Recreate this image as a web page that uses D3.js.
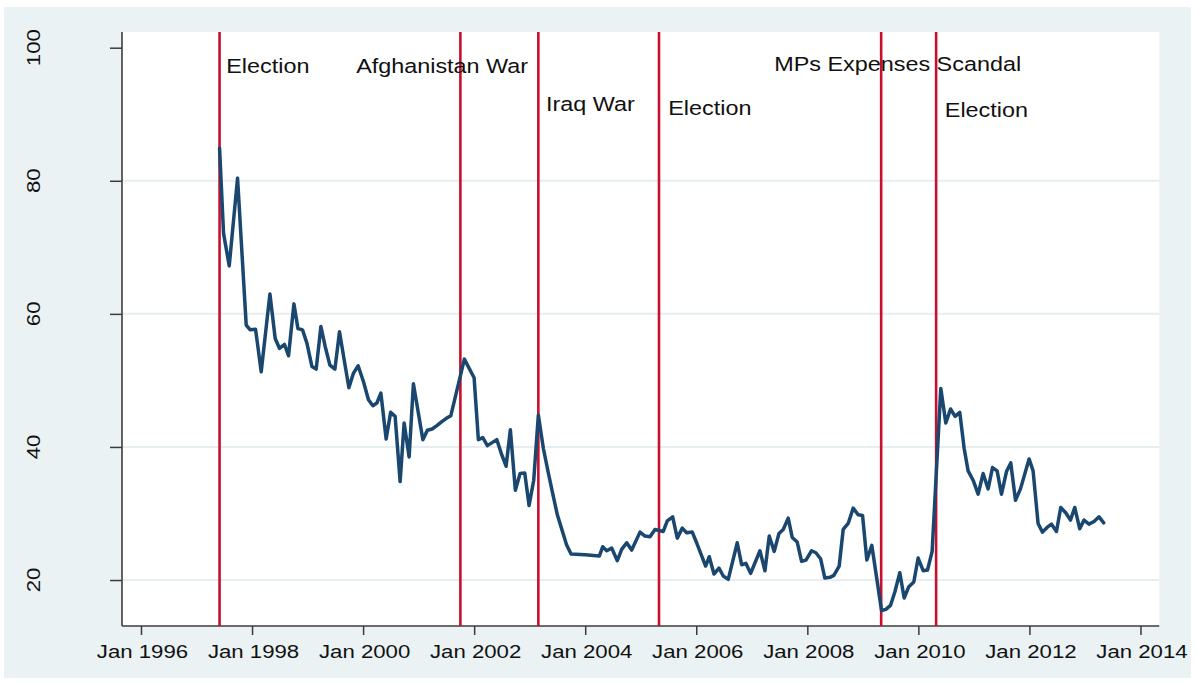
<!DOCTYPE html>
<html>
<head>
<meta charset="utf-8">
<script src="https://cdn.jsdelivr.net/npm/d3@7"></script>
<style>
    body { margin: 0; background: #ffffff; }
    text { font-family: "Liberation Sans", Arial, sans-serif; fill: #111111; }
</style>
</head>
<body>
<script>
// Poll series (decimal year, percent)
var pollYears = [
    1997.415, 1997.487, 1997.589, 1997.739, 1997.895, 1997.967, 1998.063, 1998.165, 1998.322, 1998.417,
    1998.495, 1998.585, 1998.657, 1998.754, 1998.826, 1998.909, 1998.988, 1999.078, 1999.155, 1999.240,
    1999.317, 1999.402, 1999.492, 1999.575, 1999.659, 1999.744, 1999.827, 1999.911, 2000.007, 2000.097,
    2000.176, 2000.248, 2000.320, 2000.415, 2000.496, 2000.577, 2000.667, 2000.739, 2000.829, 2000.906,
    2001.076, 2001.158, 2001.243, 2001.328, 2001.418, 2001.500, 2001.580, 2001.824, 2001.999, 2002.076,
    2002.156, 2002.238, 2002.408, 2002.498, 2002.575, 2002.652, 2002.742, 2002.827, 2002.911, 2002.989,
    2003.073, 2003.156, 2003.246, 2003.331, 2003.415, 2003.498, 2003.583, 2003.664, 2003.745, 2003.997,
    2004.254, 2004.315, 2004.387, 2004.477, 2004.578, 2004.657, 2004.747, 2004.837, 2004.987, 2005.077,
    2005.167, 2005.257, 2005.406, 2005.478, 2005.575, 2005.658, 2005.748, 2005.827, 2005.928, 2006.007,
    2006.169, 2006.234, 2006.319, 2006.409, 2006.486, 2006.576, 2006.738, 2006.817, 2006.895, 2006.979,
    2007.147, 2007.237, 2007.314, 2007.404, 2007.489, 2007.566, 2007.656, 2007.728, 2007.818, 2007.897,
    2007.975, 2008.077, 2008.154, 2008.239, 2008.316, 2008.406, 2008.478, 2008.574, 2008.646, 2008.736,
    2008.826, 2008.916, 2008.995, 2009.072, 2009.162, 2009.337, 2009.414, 2009.499, 2009.576, 2009.666,
    2009.744, 2009.828, 2009.918, 2009.996, 2010.086, 2010.165, 2010.248, 2010.404, 2010.494, 2010.579,
    2010.662, 2010.746, 2010.824, 2010.896, 2010.986, 2011.076, 2011.166, 2011.256, 2011.335, 2011.418,
    2011.497, 2011.587, 2011.664, 2011.749, 2011.839, 2011.994, 2012.066, 2012.156, 2012.235, 2012.318,
    2012.397, 2012.487, 2012.564, 2012.654, 2012.739, 2012.816, 2012.906, 2012.983, 2013.073, 2013.163,
    2013.253, 2013.338
];
var pollValues = [
    84.9, 72.1, 67.2, 80.4, 58.3, 57.6, 57.7, 51.3, 63.0, 56.3,
    54.8, 55.4, 53.7, 61.5, 57.8, 57.6, 55.6, 52.1, 51.7, 58.1,
    55.1, 52.3, 51.7, 57.3, 53.1, 48.9, 51.1, 52.2, 49.8, 47.1,
    46.2, 46.6, 48.1, 41.2, 45.2, 44.6, 34.8, 43.6, 38.5, 49.5,
    41.1, 42.5, 42.7, 43.2, 43.8, 44.3, 44.7, 53.2, 50.4, 41.1,
    41.4, 40.2, 41.1, 38.8, 37.1, 42.6, 33.5, 36.0, 36.1, 31.2,
    35.0, 44.8, 39.8, 36.3, 33.0, 29.8, 27.5, 25.3, 23.9, 23.8,
    23.6, 25.0, 24.4, 24.8, 22.9, 24.6, 25.6, 24.5, 27.2, 26.6,
    26.5, 27.6, 27.3, 28.9, 29.5, 26.3, 27.8, 27.1, 27.2, 25.6,
    22.1, 23.5, 20.9, 21.8, 20.6, 20.1, 25.6, 22.3, 22.5, 21.0,
    24.4, 21.4, 26.6, 24.3, 27.0, 27.6, 29.3, 26.4, 25.7, 22.8,
    23.0, 24.4, 24.1, 23.2, 20.3, 20.4, 20.7, 22.1, 27.6, 28.5,
    30.8, 29.8, 29.7, 23.0, 25.2, 15.4, 15.6, 16.2, 18.2, 21.1,
    17.3, 19.0, 19.7, 23.3, 21.4, 21.5, 24.3, 48.8, 43.6, 45.7,
    44.6, 45.2, 39.8, 36.4, 35.0, 32.9, 36.0, 33.7, 36.9, 36.4,
    32.9, 36.3, 37.6, 32.0, 33.7, 38.2, 36.4, 28.5, 27.2, 27.9,
    28.4, 27.3, 30.9, 30.1, 29.0, 30.9, 27.7, 29.0, 28.4, 28.8,
    29.5, 28.6
];

// Events marked with vertical lines
var eventYears = [1997.415, 2001.752, 2003.156, 2005.329, 2009.330, 2010.320];
var eventLabels = ["Election", "Afghanistan War", "Iraq War", "Election", "MPs Expenses Scandal", "Election"];
var labelYears = [1997.535, 1999.875, 2003.295, 2005.496, 2007.404, 2010.476];
var labelValues = [96.15, 96.2, 90.56, 89.88, 96.54, 89.63];

// Axis ticks
var yTicks = [20, 40, 60, 80, 100];
var gridValues = [20, 40, 60, 80];
var xTickYears = [1996, 1998, 2000, 2002, 2004, 2006, 2008, 2010, 2012, 2014];

var width = 1197, height = 684;
var plot = { left: 122, right: 1159.3, top: 32, bottom: 626 };

var svg = d3.select("body").append("svg")
    .attr("width", width)
    .attr("height", height);

// Graph region background
svg.append("rect")
    .attr("x", 4).attr("y", 7)
    .attr("width", 1187).attr("height", 671)
    .attr("fill", "#eaf2f3");

// Plot region
svg.append("rect")
    .attr("x", plot.left).attr("y", plot.top)
    .attr("width", plot.right - plot.left).attr("height", plot.bottom - plot.top)
    .attr("fill", "#ffffff");

// Scales
var x = d3.scaleLinear()
    .domain([1995.658, 2014.339])
    .range([plot.left, plot.right]);

var y = d3.scaleLinear()
    .domain([13.09, 102.36])
    .range([plot.bottom, plot.top]);

// Stretched text helper (the original font is wider than Arial)
function addText(g, px, py, str, size, anchor, rotate) {
    var t = "translate(" + px + "," + py + ")";
    if (rotate) t += " rotate(" + rotate + ")";
    t += " scale(1.2,1)";
    return g.append("text")
        .attr("transform", t)
        .attr("text-anchor", anchor)
        .attr("font-size", size + "px")
        .text(str);
}

// Grid lines
svg.append("g").selectAll("line")
    .data(gridValues)
    .enter().append("line")
    .attr("x1", plot.left).attr("x2", plot.right)
    .attr("y1", function (d) { return y(d); })
    .attr("y2", function (d) { return y(d); })
    .attr("stroke", "#e6eef1")
    .attr("stroke-width", 2);

// Y axis
var yAxis = d3.axisLeft(y).tickValues(yTicks).tickSize(12).tickFormat("");
var gy = svg.append("g")
    .attr("transform", "translate(" + plot.left + ",0)")
    .call(yAxis);
gy.select(".domain").attr("d", "M0," + plot.top + "V" + plot.bottom)
    .attr("stroke", "#3c3c3c").attr("stroke-width", 1.6);
gy.selectAll(".tick line").attr("stroke", "#3c3c3c").attr("stroke-width", 1.5);
yTicks.forEach(function (v) {
    addText(svg, 39.5, y(v), String(v), 18.5, "middle", -90);
});

// X axis
var xAxis = d3.axisBottom(x).tickValues(xTickYears).tickSize(9).tickFormat("");
var gx = svg.append("g")
    .attr("transform", "translate(0," + plot.bottom + ")")
    .call(xAxis);
gx.select(".domain").attr("d", "M" + plot.left + ",0H" + plot.right)
    .attr("stroke", "#3c3c3c").attr("stroke-width", 1.6);
gx.selectAll(".tick line").attr("stroke", "#3c3c3c").attr("stroke-width", 1.5);
xTickYears.forEach(function (yr) {
    addText(svg, x(yr) + 1.5, 657.5, "Jan " + yr, 18.5, "middle");
});

// Event lines
svg.append("g").selectAll("line")
    .data(eventYears)
    .enter().append("line")
    .attr("x1", function (d) { return x(d); })
    .attr("x2", function (d) { return x(d); })
    .attr("y1", plot.top).attr("y2", plot.bottom)
    .attr("stroke", "#c8102e")
    .attr("stroke-width", 2.6);

// Poll line
var line = d3.line()
    .x(function (d) { return x(d[0]); })
    .y(function (d) { return y(d[1]); });

svg.append("path")
    .datum(d3.zip(pollYears, pollValues))
    .attr("fill", "none")
    .attr("stroke", "#1a476f")
    .attr("stroke-width", 3.5)
    .attr("stroke-linejoin", "round")
    .attr("stroke-linecap", "round")
    .attr("d", line);

// Event labels
eventLabels.forEach(function (lab, i) {
    addText(svg, x(labelYears[i]), y(labelValues[i]), lab, 19.5, "start");
});
</script>
</body>
</html>
